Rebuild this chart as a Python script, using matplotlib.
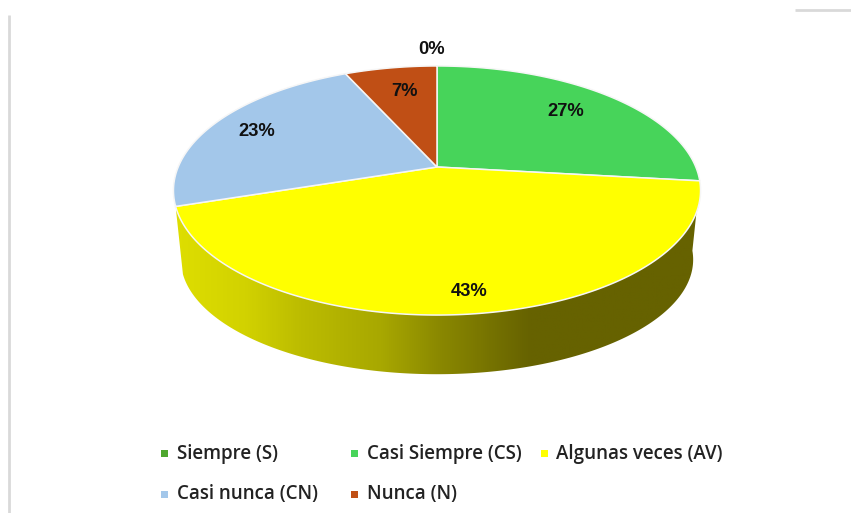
import numpy as np
import matplotlib
matplotlib.use("Agg")
import matplotlib.pyplot as plt
from matplotlib.patches import Polygon, Rectangle
from matplotlib.colors import LinearSegmentedColormap

categories = ["Siempre (S)", "Casi Siempre (CS)", "Algunas veces (AV)", "Casi nunca (CN)", "Nunca (N)"]
values = [0.0, 26.8, 43.2, 23.2, 6.8]
labels = ["0%", "27%", "43%", "23%", "7%"]
colors = ["#4EA72E", "#47D45A", "#FFFF00", "#A3C7EA", "#C04F15"]
LABEL_FONT = ["Liberation Sans", "DejaVu Sans"]
LEGEND_FONT = ["Open Sans", "DejaVu Sans"]

W, H = 851, 513
fig = plt.figure(figsize=(W / 100, H / 100), dpi=100)
ax = fig.add_axes([0, 0, 1, 1])
ax.set_xlim(0, W)
ax.set_ylim(H, 0)
ax.axis("off")

CX, CY, A, B, K = 437.0, 167.0, 258.8, 120.1, 0.1888


def top(theta):
    u, v = np.sin(theta), np.cos(theta)
    w = 1 + K * v
    return CX + A * u / w, CY - B * v / w


def bottom(theta):
    x, y = top(theta)
    return CX + (x - CX) * 0.972, 238.0 + (y - CY) * 0.92


# side wall with horizontal gradient
cum = np.cumsum([0] + values) / sum(values) * 2 * np.pi
th_side = np.linspace(cum[2], cum[3], 200)
tx, ty = top(th_side)
bx, by = bottom(th_side)
side = Polygon(np.r_[np.c_[tx, ty], np.c_[bx, by][::-1]], closed=True, transform=ax.transData, fc="none", ec="none")
ax.add_patch(side)
cmap = LinearSegmentedColormap.from_list(
    "side",
    [(0.0, "#DEDE00"), (0.13, "#D2D200"), (0.237, "#BCBC00"), (0.39, "#A8A800"),
     (0.504, "#8A8800"), (0.676, "#666200"), (1.0, "#666200")],
)
grad = np.linspace(0, 1, 512)[None, :]
im = ax.imshow(grad, extent=[176, 700, 380, 170], cmap=cmap, aspect="auto", zorder=1)
im.set_clip_path(side)
ax.set_xlim(0, W)
ax.set_ylim(H, 0)

# top face
for i, val in enumerate(values):
    if val == 0:
        continue
    th = np.linspace(cum[i], cum[i + 1], 200)
    x, y = top(th)
    ax.add_patch(Polygon(np.r_[[[CX, CY]], np.c_[x, y]], closed=True, fc=colors[i], ec="#F6F6F6", lw=1.1, zorder=2))

# data labels
label_pos = [(432, 50), (566, 111), (469, 292), (257, 132), (405, 92)]
for s, (lx, ly) in zip(labels, label_pos):
    ax.text(lx, ly, s, ha="center", va="center", fontsize=13.2, fontweight="bold", family=LABEL_FONT, color="#111111", zorder=3)

# legend
marker_pos = [(161, 453), (351, 453), (541, 453), (161, 494), (351, 494)]
text_x = [177, 367, 556, 177, 367]
for c, name, (lx, ly), tx_i in zip(colors, categories, marker_pos, text_x):
    ax.add_patch(Rectangle((lx, ly - 3.5), 7, 7, fc=c, ec="none", zorder=3))
    ax.text(tx_i, ly + 0.5, name, ha="left", va="center", fontsize=13.5, fontweight="semibold", family=LEGEND_FONT, color="#222222", zorder=3)

# fragments of surrounding frame
ax.plot([9, 9], [15, 513], color="#D9D9D9", lw=2, solid_capstyle="butt")
ax.plot([795, 851], [9.5, 9.5], color="#D9D9D9", lw=2, solid_capstyle="butt")

fig.savefig("out.png", dpi=100, facecolor="white")
